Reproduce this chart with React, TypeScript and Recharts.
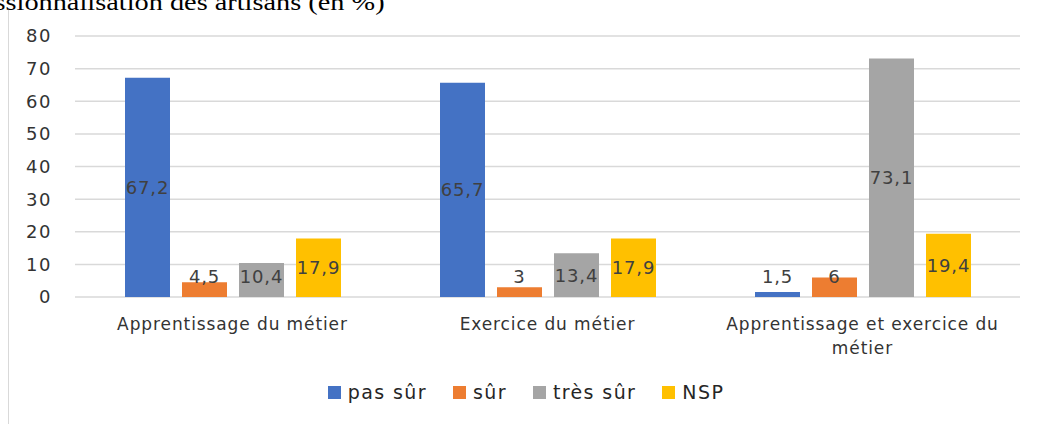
import React from "react";
import {
  BarChart,
  Bar,
  XAxis,
  YAxis,
  CartesianGrid,
  Legend,
  LabelList,
} from "recharts";

const categories = [
  "Apprentissage du métier",
  "Exercice du métier",
  "Apprentissage et exercice du métier",
];
const pasSur = [67.2, 65.7, 1.5];
const sur = [4.5, 3, 6];
const tresSur = [10.4, 13.4, 73.1];
const nsp = [17.9, 17.9, 19.4];
const yTicks = [0, 10, 20, 30, 40, 50, 60, 70, 80];

const series = [
  { key: "pasSur", name: "pas sûr", color: "#4472C4" },
  { key: "sur", name: "sûr", color: "#ED7D31" },
  { key: "tresSur", name: "très sûr", color: "#A5A5A5" },
  { key: "nsp", name: "NSP", color: "#FFC000" },
];

const data = categories.map((c, i) => ({
  name: c,
  pasSur: pasSur[i],
  sur: sur[i],
  tresSur: tresSur[i],
  nsp: nsp[i],
}));

const FONT = "'DejaVu Sans', sans-serif";

function wrap(text: string, max: number) {
  const words = text.split(" ");
  const lines: string[] = [];
  let cur = "";
  words.forEach((w) => {
    const next = cur ? cur + " " + w : w;
    if (next.length > max && cur) {
      lines.push(cur);
      cur = w;
    } else {
      cur = next;
    }
  });
  if (cur) lines.push(cur);
  return lines;
}

const CatTick = (props: any) => {
  const { x, y, payload } = props;
  const lines = wrap(payload.value, 29);
  return (
    <text x={x} y={y} textAnchor="middle" fill="#333" fontSize={17} fontFamily={FONT} letterSpacing={0.9}>
      {lines.map((l, i) => (
        <tspan key={i} x={x} dy={i === 0 ? 25 : 24}>
          {l}
        </tspan>
      ))}
    </text>
  );
};

const ValueLabel = (props: any) => {
  const { x, y, width, height, value } = props;
  // centred in the bar, pushed up above short bars like the original
  const cy = Math.min(y + height / 2, y + height - 20);
  return (
    <text
      x={x + width / 2}
      y={cy}
      dy="0.36em"
      textAnchor="middle"
      fill="#404040"
      fontSize={18}
      fontFamily={FONT}
      letterSpacing={0.8}
    >
      {String(value).replace(".", ",")}
    </text>
  );
};

const LegendBox = () => (
  <div
    style={{
      display: "flex",
      justifyContent: "center",
      alignItems: "center",
      height: 30,
      paddingLeft: 12,
      fontFamily: FONT,
      fontSize: 19,
      color: "#262626",
    }}
  >
    {series.map((s) => (
      <div key={s.key} style={{ display: "flex", alignItems: "center", margin: "0 13px" }}>
        <span style={{ width: 13, height: 13, background: s.color, marginRight: 7, display: "inline-block" }} />
        <span style={{ letterSpacing: 1.4 }}>{s.name}</span>
      </div>
    ))}
  </div>
);

export default function App() {
  return (
    <div
      style={{
        position: "absolute",
        left: 0,
        top: 0,
        width: 1040,
        height: 424,
        overflow: "hidden",
        background: "#fff",
      }}
    >
      <div
        style={{
          position: "absolute",
          right: 655,
          top: -9,
          whiteSpace: "nowrap",
          fontFamily: "'Liberation Serif', serif",
          fontSize: 24,
          lineHeight: "22px",
          color: "#000",
          transform: "scaleX(1.18)",
          transformOrigin: "right center",
        }}
      >
        Professionnalisation des artisans (en %)
      </div>
      <div
        style={{
          position: "absolute",
          left: 8,
          top: 10,
          width: 0,
          height: 420,
          borderLeft: "1.5px solid #d9d9d9",
        }}
      />
      <div style={{ position: "absolute", left: 0, top: 0 }}>
        <BarChart
          width={1040}
          height={424}
          data={data}
          margin={{ top: 36, right: 20, left: 0, bottom: 37 }}
          barSize={45}
          barGap={12}
        >
          <CartesianGrid vertical={false} stroke="#d9d9d9" strokeWidth={1.5} />
          <XAxis
            dataKey="name"
            axisLine={false}
            tickLine={false}
            height={60}
            interval={0}
            tick={<CatTick />}
          />
          <YAxis
            domain={[0, 80]}
            ticks={yTicks}
            axisLine={false}
            tickLine={false}
            tickSize={0}
            tickMargin={23}
            width={75}
            tick={{ fill: "#333", fontSize: 18, fontFamily: FONT, letterSpacing: 1.5 }}
          />
          <Legend
            verticalAlign="bottom"
            content={<LegendBox />}
            wrapperStyle={{ left: 0, width: 1040, top: 377 }}
          />
          {series.map((s) => (
            <Bar key={s.key} dataKey={s.key} name={s.name} fill={s.color} isAnimationActive={false}>
              <LabelList dataKey={s.key} content={<ValueLabel />} />
            </Bar>
          ))}
        </BarChart>
      </div>
    </div>
  );
}
